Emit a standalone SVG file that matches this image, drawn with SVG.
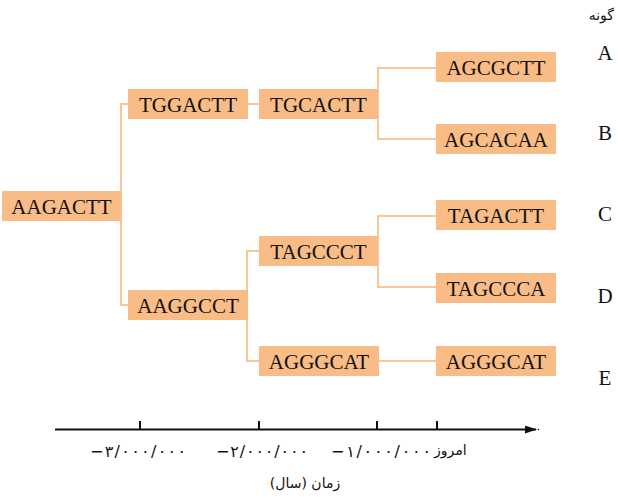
<svg xmlns="http://www.w3.org/2000/svg" width="618" height="497" viewBox="0 0 618 497">
<defs>
<style>
.box{fill:#F9BC86}
.seq{font-family:"Liberation Serif","Times New Roman",serif;font-size:21px;fill:#111;text-anchor:middle}
.sp{font-family:"Liberation Serif","Times New Roman",serif;font-size:21px;fill:#111;text-anchor:middle}
.con{fill:none;stroke:#F9C797;stroke-width:2}
.fa{font-family:"DejaVu Sans","Noto Sans",sans-serif;font-size:14px;fill:#111}
.num{font-family:"DejaVu Sans","Noto Sans",sans-serif;font-size:16px;fill:#111}
.axis{stroke:#111;stroke-width:2;fill:none}
</style>
<marker id="arr" markerWidth="12" markerHeight="8" refX="11" refY="4" orient="auto" markerUnits="userSpaceOnUse">
<path d="M0,0 L12,4 L0,8 Z" fill="#111"/>
</marker>
</defs>
<rect width="618" height="497" fill="#fff"/>
<g id="connectors">
<path class="con" d="M121,206 V104 H128 M121,206 V305 H128"/>
<path class="con" d="M248,104 H259"/>
<path class="con" d="M247,305 V251 H259 M247,305 V361 H259"/>
<path class="con" d="M378,104 V68 H436 M378,104 V139 H436"/>
<path class="con" d="M378,251 V216 H436 M378,251 V287 H436"/>
<path class="con" d="M378,361 H436"/>
</g>
<g id="n-root"><rect class="box" x="2" y="191" width="119" height="30"/><text class="seq" x="61.5" y="213.5">AAGACTT</text></g>
<g id="n-tggactt"><rect class="box" x="128" y="89" width="120" height="30"/><text class="seq" x="188" y="111.5">TGGACTT</text></g>
<g id="n-aaggcct"><rect class="box" x="128" y="290" width="120" height="30"/><text class="seq" x="188" y="312.5">AAGGCCT</text></g>
<g id="n-tgcactt"><rect class="box" x="259" y="89" width="119" height="30"/><text class="seq" x="318.5" y="111.5">TGCACTT</text></g>
<g id="n-tagccct"><rect class="box" x="259" y="236" width="119" height="30"/><text class="seq" x="318.5" y="258.5">TAGCCCT</text></g>
<g id="n-agggcat1"><rect class="box" x="259" y="346" width="120" height="30"/><text class="seq" x="319" y="368.5">AGGGCAT</text></g>
<g id="n-agcgctt"><rect class="box" x="436" y="52" width="120" height="30"/><text class="seq" x="496" y="74.5">AGCGCTT</text></g>
<g id="n-agcacaa"><rect class="box" x="436" y="124" width="120" height="30"/><text class="seq" x="496" y="146.5">AGCACAA</text></g>
<g id="n-tagactt"><rect class="box" x="436" y="200" width="120" height="30"/><text class="seq" x="496" y="222.5">TAGACTT</text></g>
<g id="n-tagccca"><rect class="box" x="436" y="273" width="120" height="30"/><text class="seq" x="496" y="295.5">TAGCCCA</text></g>
<g id="n-agggcat2"><rect class="box" x="436" y="346" width="120" height="30"/><text class="seq" x="496" y="368.5">AGGGCAT</text></g>
<g id="species">
<text class="fa" x="614" y="20" text-anchor="end" font-size="13">گونه</text>
<text class="sp" x="605" y="60">A</text>
<text class="sp" x="605" y="140">B</text>
<text class="sp" x="605" y="221">C</text>
<text class="sp" x="605" y="303">D</text>
<text class="sp" x="605" y="385">E</text>
</g>
<g id="axis">
<line class="axis" x1="55" y1="429.5" x2="536" y2="429.5" marker-end="url(#arr)"/>
<path class="axis" d="M140,421 V429 M259,421 V429 M377,421 V429 M437,421 V429"/>
<circle cx="538.5" cy="429.5" r="0.8" fill="#111"/>
<text class="num" x="90" y="457" direction="ltr" textLength="96" lengthAdjust="spacing">−۳/۰۰۰/۰۰۰</text>
<text class="num" x="216" y="457" direction="ltr" textLength="92" lengthAdjust="spacing">−۲/۰۰۰/۰۰۰</text>
<text class="num" x="331" y="457" direction="ltr" textLength="100" lengthAdjust="spacing">−۱/۰۰۰/۰۰۰</text>
<text class="fa" x="434" y="455" font-size="15">امروز</text>
<text class="fa" x="305" y="488" text-anchor="middle" font-size="15">زمان (سال)</text>
</g>
</svg>
